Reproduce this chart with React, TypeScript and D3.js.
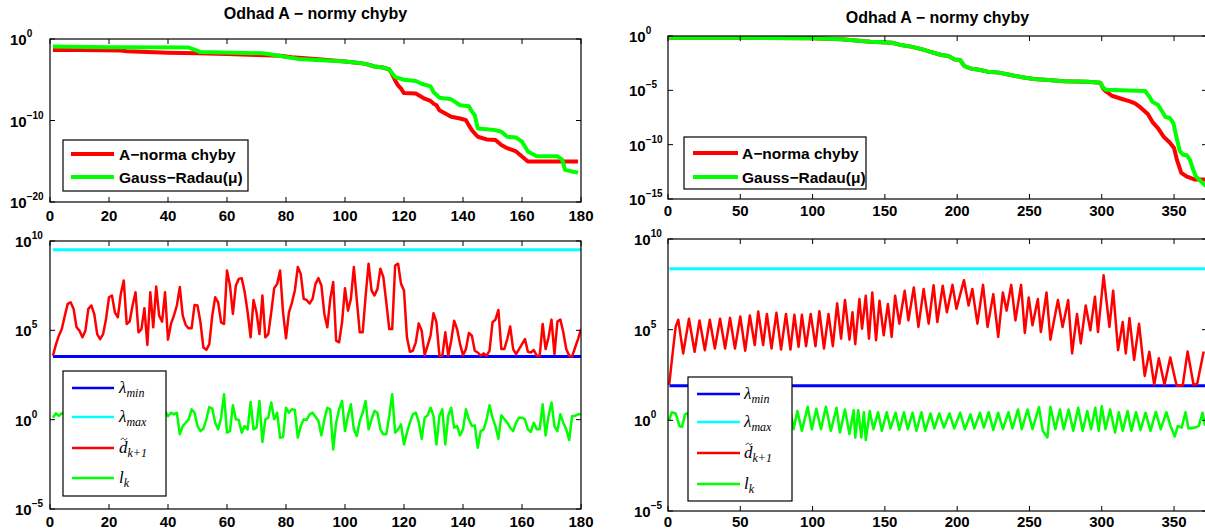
import React, { useEffect, useRef } from "react";
import * as d3 from "d3";

// ---------------- text ----------------
const titleText = "Odhad A \u2212 normy chyby";
const topLegendLabels = ["A\u2212norma chyby", "Gauss\u2212Radau(\u03bc)"];

// ---------------- ticks ----------------
const leftXTicks = [0, 20, 40, 60, 80, 100, 120, 140, 160, 180];
const rightXTicks = [0, 50, 100, 150, 200, 250, 300, 350];
const topLeftYTicks = [0, -10, -20]; // exponents of 10
const topRightYTicks = [0, -5, -10, -15];
const bottomYTicks = [10, 5, 0, -5];

// ---------------- data (values are exponents: value = 10^exp) ----------------
// Top-left: A-norm of error and Gauss-Radau estimate
const tlRedX = [1, 10, 24, 26, 40, 50, 60, 70, 78, 82, 90, 100, 104, 107, 110, 113, 115, 116, 117, 118, 119, 120, 124, 125, 127, 129, 130, 131, 132, 134, 136, 139, 141, 142, 143, 145, 148, 151, 153, 155, 158, 160, 162, 179];
const tlRedExp = [-1.34, -1.36, -1.4, -1.5, -1.68, -1.75, -1.83, -1.95, -2.05, -2.24, -2.45, -2.76, -2.9, -3.05, -3.37, -3.5, -3.74, -4.3, -5.08, -5.7, -6.1, -6.63, -6.7, -6.9, -7.32, -7.6, -7.93, -8.13, -8.74, -9.15, -9.55, -9.76, -9.96, -10.6, -11.18, -11.99, -12.32, -12.4, -13.0, -13.4, -13.8, -14.43, -15.04, -15.04];
const tlGreenX = [1, 20, 47, 49, 51, 72, 75, 80, 84, 100, 104, 107, 110, 113, 115, 116, 117, 120, 124, 126, 129, 130, 132, 136, 139, 142, 143, 144, 145, 148, 151, 153, 155, 158, 160, 161, 162, 165, 172, 173.6, 174.6, 177, 179];
const tlGreenExp = [-0.93, -1.0, -1.05, -1.3, -1.6, -1.75, -1.9, -2.2, -2.44, -2.76, -2.9, -3.05, -3.37, -3.5, -3.74, -4.2, -4.67, -5.0, -5.16, -5.49, -5.81, -6.5, -7.2, -7.4, -8.13, -8.25, -8.9, -9.35, -10.97, -11.06, -11.18, -11.38, -12.0, -12.1, -12.6, -13.2, -13.8, -14.4, -14.4, -14.8, -16.06, -16.26, -16.4];

// Top-right
const trRedX = [1, 50, 100, 120, 130, 140, 155, 160, 168, 176, 181, 189, 194, 198, 202, 205, 209, 216, 221, 229, 237, 245, 253, 263, 274, 290, 299, 301, 303, 307, 314, 319, 323, 327, 332, 335, 339, 343, 347, 350, 352, 355, 359, 364, 372];
const trRedExp = [-0.15, -0.17, -0.2, -0.3, -0.42, -0.52, -0.62, -0.8, -0.98, -1.23, -1.44, -1.75, -1.84, -2.15, -2.21, -2.76, -2.98, -3.13, -3.28, -3.37, -3.59, -3.8, -3.96, -4.05, -4.17, -4.2, -4.3, -4.85, -5.1, -5.5, -5.8, -6.0, -6.2, -6.6, -7.2, -7.9, -8.5, -9.3, -9.8, -10.3, -11.4, -12.6, -12.95, -13.2, -13.2];
const trGreenX = [1, 50, 100, 120, 130, 140, 155, 160, 168, 176, 181, 189, 194, 198, 202, 205, 209, 216, 221, 229, 237, 245, 253, 263, 274, 290, 299, 301, 303, 330, 333, 335, 339, 342, 344, 347, 349.5, 352, 354, 356, 359, 361, 363, 365, 368, 372];
const trGreenExp = [-0.15, -0.17, -0.2, -0.3, -0.42, -0.52, -0.62, -0.8, -0.98, -1.23, -1.44, -1.75, -1.84, -2.15, -2.21, -2.76, -2.98, -3.13, -3.28, -3.37, -3.59, -3.8, -3.96, -4.05, -4.17, -4.2, -4.3, -4.75, -4.95, -5.05, -5.6, -6.05, -6.35, -7.0, -7.45, -7.55, -8.0, -9.5, -10.6, -10.9, -11.0, -11.4, -12.2, -12.9, -13.3, -13.8];

// Bottom-left (k = 1..180)
const blLambdaMinExp = 3.54;
const blLambdaMaxExp = 9.51;
const blDExp = [
  3.58, 4.2, 4.7, 5.07, 5.8, 6.48, 6.57, 6.2, 5.17, 4.98,
  4.61, 4.98, 6.2, 6.39, 5.92, 4.79, 4.51, 4.79, 5.64, 6.85,
  6.95, 6.01, 5.73, 7.04, 7.79, 5.36, 5.49, 6.4, 7.13, 4.89,
  5.07, 6.24, 4.18, 7.13, 5.17, 7.45, 5.82, 5.49, 7.13, 4.48,
  5.36, 5.82, 6.39, 7.42, 5.82, 5.3, 5.11, 5.11, 6.42, 6.39,
  5.45, 4.04, 3.91, 4.23, 5.82, 6.85, 6.57, 5.45, 5.36, 8.35,
  7.51, 5.92, 7.51, 7.88, 7.92, 7.13, 6.01, 4.61, 6.7, 6.01,
  4.79, 6.95, 4.61, 4.79, 6.01, 7.36, 7.6, 8.35, 6.01, 4.55,
  6.01, 6.54, 7.23, 8.54, 8.16, 6.76, 6.7, 6.5, 6.76, 7.6,
  7.92, 7.51, 5.92, 5.17, 6.76, 7.7, 4.42, 4.33, 5.45, 7.36,
  6.1, 6.76, 8.54, 6.7, 4.89, 4.89, 6.95, 8.73, 7.23, 6.95,
  7.32, 8.45, 7.98, 6.57, 5.07, 5.07, 8.63, 8.73, 7.6, 7.23,
  4.61, 3.8, 3.86, 4.33, 5.39, 4.98, 3.61, 4.14, 4.7, 5.96,
  5.45, 3.58, 3.58, 4.89, 3.58, 4.42, 5.54, 5.07, 4.23, 3.61,
  3.95, 4.85, 4.7, 3.86, 3.76, 3.58, 3.71, 3.58, 3.86, 5.45,
  5.6, 6.14, 3.95, 3.95, 4.51, 5.21, 3.95, 3.67, 3.95, 4.23,
  4.51, 3.8, 3.76, 3.9, 3.58, 3.58, 5.36, 3.95, 4.61, 5.6,
  3.67, 5.49, 5.6, 4.89, 3.95, 3.58, 3.54, 4.04, 4.51, 5.07,
];
const blLExp = [
  0.11, 0.36, 0.21, 0.36, 0.28, 0.4, 0.1, -0.3, 0.5, 0.2,
  -0.6, 0.3, 0.8, -0.2, 0.1, 0.4, -0.5, 0.6, 0.0, -0.3,
  0.7, -0.8, 0.2, 0.3, -0.1, 0.5, -0.4, 0.9, 0.1, -0.6,
  0.2, 0.4, -0.2, 0.6, -0.9, 0.3, 0.1, -0.3, 0.5, 0.2,
  0.39, 0.3, 0.39, -0.82, -0.36, -0.17, 0.02, 0.58, 0.39, -0.36,
  -0.64, -0.51, 0.02, 0.71, 0.62, -0.17, -0.54, 0.11, 1.42, -0.73,
  -0.64, 0.81, 0.02, -0.02, -0.73, -0.36, -0.54, 0.99, -0.54, -0.45,
  1.05, -1.25, 0.02, 0.11, 0.96, 0.02, 0.39, -1.01, -0.97, 0.67,
  0.39, 0.58, 0.54, -1.01, -0.36, 0.02, -0.02, 0.3, 0.39, 0.17,
  -0.07, -0.88, 0.02, 0.66, 0.58, -1.67, -0.17, 0.58, 1.05, -0.64,
  0.21, 0.86, -0.54, -0.92, -0.07, 0.39, 1.05, -0.54, 0.02, 0.49,
  0.39, -0.54, -0.82, -0.82, 0.21, 1.42, -0.73, -0.54, -0.26, -1.39,
  -0.73, -0.17, 0.3, 0.39, -0.13, -1.07, 0.11, 0.24, 0.67, 0.21,
  -1.39, 0.21, 0.58, -1.39, 0.21, 0.67, -0.45, -0.36, -0.88, -0.54,
  0.58, 0.02, -0.36, -0.32, -1.57, -0.64, -0.54, 0.02, 0.81, 0.11,
  -0.36, -1.07, 0.24, 0.04, -0.17, -0.45, -0.64, -0.17, 0.11, 0.11,
  0.02, -0.54, -0.69, -0.17, -0.54, -0.54, 0.86, -0.88, 0.21, 0.96,
  -0.36, -0.64, 0.3, -0.17, -0.54, -1.14, 0.21, 0.21, 0.3, 0.3,
];

// Bottom-right (turning points)
const brLambdaMinExp = 1.91;
const brLambdaMaxExp = 8.36;
const brDX = [0.8, 3.2, 5.3, 7.1, 10.5, 14.5, 18.4, 21.8, 25.5, 28.9, 32.4, 36, 39.5, 42.9, 46.3, 50, 53.4, 56.6, 60, 62.4, 65.8, 68.4, 71.6, 75, 78.2, 81.6, 84.7, 87.4, 90.3, 92.6, 95.5, 98.7, 102, 104.7, 107.9, 111, 114, 117, 119.7, 122.4, 125.5, 127.6, 129.5, 132.4, 134.2, 136.8, 139, 141.3, 143.9, 146.3, 149.2, 152.1, 154.7, 157.1, 160, 163.7, 166.3, 170, 173.2, 176.8, 180.3, 183.7, 186.3, 190, 192.9, 196.8, 199.5, 204.7, 207.9, 210.5, 214, 217.9, 221, 225, 228.4, 231.6, 234.2, 237.4, 240.3, 244.2, 246.8, 249.5, 252.1, 255.8, 257.9, 261.8, 264.5, 269.7, 272.9, 276.8, 279.5, 282.9, 285.5, 288.9, 292.1, 295.3, 297.4, 301.3, 305.3, 307.9, 311.3, 314.5, 316.6, 319.2, 322.4, 325.8, 329.7, 332.9, 336.3, 339.5, 343.4, 347.4, 351.8, 356, 359.4, 363.5, 366, 370.5];
const brDExp = [1.96, 3.69, 5.15, 5.55, 3.69, 5.6, 3.78, 5.51, 3.87, 5.55, 3.96, 5.6, 3.96, 5.65, 3.96, 5.73, 3.84, 5.78, 4.15, 6.0, 4.15, 5.87, 3.96, 5.93, 3.9, 5.87, 3.9, 5.82, 4.05, 5.82, 4.09, 5.87, 4.09, 6.02, 3.96, 5.87, 4.09, 6.45, 4.5, 6.64, 4.45, 5.96, 4.2, 6.69, 5.05, 6.87, 4.5, 7.05, 4.42, 6.6, 4.69, 6.42, 4.6, 6.87, 5.33, 7.15, 5.51, 7.33, 5.15, 7.24, 5.33, 7.45, 5.42, 7.42, 5.96, 7.47, 6.15, 7.73, 6.33, 7.24, 5.33, 7.47, 5.15, 6.96, 4.6, 7.05, 6.05, 7.47, 5.51, 7.47, 4.82, 6.78, 5.24, 6.69, 4.87, 7.05, 4.45, 6.64, 5.15, 6.64, 3.69, 5.87, 4.24, 6.33, 4.96, 6.82, 4.87, 8.0, 5.15, 7.15, 3.87, 5.42, 3.69, 5.64, 3.33, 5.33, 2.45, 3.78, 1.96, 3.42, 1.96, 3.47, 1.91, 1.93, 3.8, 1.96, 2.0, 3.8];
const brLX = [0.8, 2.6, 5.3, 7.9, 9.7, 11.8, 13.7, 16.5, 19.5, 22.5, 25.5, 28.5, 31.5, 34.5, 37.5, 40.5, 43.5, 46.5, 49.5, 52.5, 55.5, 58.5, 61.5, 64.5, 67.5, 70.5, 73.5, 76.5, 79.5, 82.5, 85, 86.8, 89.5, 92.6, 96.6, 99.5, 102.6, 105.8, 109.2, 112.6, 116.6, 118.9, 122.4, 125.5, 128.4, 129.5, 131.6, 133.7, 135.5, 136.8, 139.5, 142.1, 145.3, 147.9, 151.3, 153.9, 157.4, 160, 163.2, 165.8, 169.2, 171.8, 175.3, 177.9, 181.6, 184.2, 187.6, 190.8, 194.7, 197.9, 202.1, 205.3, 209.2, 211.8, 215.8, 218.4, 221.8, 225, 228.4, 231.6, 235.5, 238.2, 242.1, 244.7, 248.7, 252.1, 256.6, 259.2, 262.4, 264.5, 267.9, 271.1, 273.7, 277.1, 280.3, 283.7, 286.8, 290, 292.6, 295.5, 297.9, 300, 302.6, 305.8, 309.2, 311.8, 314.5, 317.9, 320.5, 323.7, 326.8, 330.3, 333.7, 337.4, 340.8, 344.7, 347.4, 350.5, 352.6, 355.3, 357.9, 360, 364.5, 367.1, 369.7, 371.5];
const brLExp = [0, 0.45, 0.38, -0.31, -0.36, 0.33, 0.4, -0.5, 0.45, -0.55, 0.5, -0.5, 0.55, -0.45, 0.5, -0.55, 0.5, -0.5, 0.6, -0.45, 0.5, -0.55, 0.55, -0.5, 0.5, -0.6, 0.5, -0.5, 0.55, -0.5, 0.4, -0.49, 0.51, -0.58, 0.75, -0.49, 0.64, -0.49, 0.75, -0.58, 0.69, -0.67, 0.6, -0.76, 0.56, -0.95, 0.56, -0.95, 0.45, -1.09, 0.51, -0.49, 0.45, -0.58, 0.45, -0.45, 0.42, -0.53, 0.45, -0.49, 0.42, -0.58, 0.45, -0.58, 0.38, -0.45, 0.38, -0.4, 0.38, -0.45, 0.42, -0.49, 0.33, -0.45, 0.42, -0.4, 0.45, -0.53, 0.42, -0.49, 0.45, -0.45, 0.6, -0.49, 0.6, -0.49, 0.73, -0.58, -0.95, 0.75, -0.49, 0.6, -0.49, 0.6, -0.58, 0.69, -0.58, 0.51, -0.49, 0.69, -0.58, 0.78, -0.49, 0.6, -0.67, 0.45, -0.58, 0.51, -0.58, 0.45, -0.53, 0.42, -0.58, 0.47, -0.49, 0.45, -0.27, -0.89, -0.31, -0.4, 0.45, -0.45, -0.4, -0.31, 0.42, -0.3];

// ---------------- colours ----------------
const RED = "#ff0000";
const GREEN = "#00ff00";
const BLUE = "#0000ff";
const CYAN = "#00ffff";

const SANS = "'Liberation Sans', Arial, Helvetica, sans-serif";
const SERIF = "'Liberation Serif', 'DejaVu Serif', serif";

const idx = (n: number) => d3.range(1, n + 1);

type Series = { x: number[]; e: number[]; color: string; w: number };
type LegendItem = { color: string; text?: string; main?: string; sub?: string; tilde?: boolean };
type Panel = {
  id: string;
  left: number; right: number; top: number; bottom: number;
  xDomain: [number, number]; xTicks: number[]; xLabelY: number;
  yExp: [number, number]; yTicks: number[];
  labelX: number;
  title?: { y: number };
  series: Series[];
  legend: { x: number; y: number; w: number; h: number; rows: number[]; lx1: number; lx2: number; tx: number; lw: number; items: LegendItem[]; math: boolean };
};

function expStr(e: number) {
  return e < 0 ? "\u2212" + Math.abs(e) : String(e);
}

function drawPanel(svg: d3.Selection<SVGSVGElement, unknown, null, undefined>, p: Panel) {
  const x = d3.scaleLinear().domain(p.xDomain).range([p.left, p.right]);
  const y = d3.scaleLog().domain([Math.pow(10, p.yExp[0]), Math.pow(10, p.yExp[1])]).range([p.bottom, p.top]);
  const g = svg.append("g");
  const clipId = "clip-" + p.id;
  g.append("clipPath").attr("id", clipId).append("rect")
    .attr("x", p.left).attr("y", p.top).attr("width", p.right - p.left).attr("height", p.bottom - p.top);

  const line = d3.line<[number, number]>().x((d) => x(d[0])).y((d) => y(d[1]));
  p.series.forEach((s) => {
    const pts: [number, number][] = s.x.map((xv, i) => [xv, Math.pow(10, s.e[i])]);
    g.append("path").attr("d", line(pts) || "").attr("fill", "none").attr("stroke", s.color)
      .attr("stroke-width", s.w).attr("stroke-linejoin", "round").attr("stroke-linecap", "butt")
      .attr("clip-path", `url(#${clipId})`);
  });

  // box
  g.append("rect").attr("x", p.left).attr("y", p.top).attr("width", p.right - p.left).attr("height", p.bottom - p.top)
    .attr("fill", "none").attr("stroke", "#000").attr("stroke-width", 1.2);

  const tl = 5;
  p.xTicks.forEach((t) => {
    const xx = x(t);
    g.append("line").attr("x1", xx).attr("x2", xx).attr("y1", p.bottom).attr("y2", p.bottom - tl).attr("stroke", "#000");
    g.append("line").attr("x1", xx).attr("x2", xx).attr("y1", p.top).attr("y2", p.top + tl).attr("stroke", "#000");
    g.append("text").attr("x", xx).attr("y", p.xLabelY).attr("text-anchor", "middle")
      .attr("font-family", SANS).attr("font-weight", "bold").attr("font-size", 15).text(String(t));
  });
  p.yTicks.forEach((e) => {
    const yy = y(Math.pow(10, e));
    g.append("line").attr("x1", p.left).attr("x2", p.left + tl).attr("y1", yy).attr("y2", yy).attr("stroke", "#000");
    g.append("line").attr("x1", p.right).attr("x2", p.right - tl).attr("y1", yy).attr("y2", yy).attr("stroke", "#000");
    const t = g.append("text").attr("x", p.labelX).attr("y", yy + 6).attr("font-family", SANS).attr("font-weight", "bold").attr("font-size", 15);
    t.append("tspan").text("10");
    t.append("tspan").attr("font-size", 10).attr("dy", -8).text(expStr(e));
  });

  if (p.title) {
    g.append("text").attr("x", (p.left + p.right) / 2).attr("y", p.title.y).attr("text-anchor", "middle")
      .attr("font-family", SANS).attr("font-weight", "bold").attr("font-size", 16).text(titleText);
  }

  const L = p.legend;
  g.append("rect").attr("x", L.x).attr("y", L.y).attr("width", L.w).attr("height", L.h)
    .attr("fill", "#fff").attr("stroke", "#000").attr("stroke-width", 1.2);
  L.items.forEach((it, i) => {
    const yy = L.rows[i];
    g.append("line").attr("x1", L.lx1).attr("x2", L.lx2).attr("y1", yy).attr("y2", yy)
      .attr("stroke", it.color).attr("stroke-width", L.lw);
    if (!L.math) {
      g.append("text").attr("x", L.tx).attr("y", yy + 5.5).attr("font-family", SANS).attr("font-weight", "bold")
        .attr("font-size", 15.5).text(it.text || "");
    } else {
      const t = g.append("text").attr("x", L.tx).attr("y", yy + 5).attr("font-family", SERIF).attr("font-style", "italic").attr("font-size", 17);
      t.append("tspan").text(it.main || "");
      t.append("tspan").attr("font-size", 12).attr("dy", 4).text(it.sub || "");
      if (it.tilde) {
        // small tilde accent drawn above the "d"
        const cx = L.tx + 5, cy = yy - 9;
        g.append("path")
          .attr("d", `M${cx - 3},${cy + 1} C${cx - 2},${cy - 1.5} ${cx - 0.5},${cy - 1} ${cx},${cy} S${cx + 2},${cy + 1.5} ${cx + 3},${cy - 1}`)
          .attr("fill", "none").attr("stroke", "#000").attr("stroke-width", 0.8);
      }
    }
  });
}

const leftX = 50, leftR = 581;
const rightX = 668, rightR = 1207;

const panels: Panel[] = [
  {
    id: "tl", left: leftX, right: leftR, top: 39, bottom: 202,
    xDomain: [0, 180], xTicks: leftXTicks, xLabelY: 221, yExp: [-20, 0], yTicks: topLeftYTicks, labelX: 10,
    title: { y: 19 },
    series: [
      { x: tlRedX, e: tlRedExp, color: RED, w: 4 },
      { x: tlGreenX, e: tlGreenExp, color: GREEN, w: 4 },
    ],
    legend: { x: 63, y: 140, w: 185, h: 51, rows: [154, 177], lx1: 71, lx2: 114, tx: 119, lw: 4, math: false,
      items: [{ color: RED, text: topLegendLabels[0] }, { color: GREEN, text: topLegendLabels[1] }] },
  },
  {
    id: "bl", left: leftX, right: leftR, top: 241, bottom: 509,
    xDomain: [0, 180], xTicks: leftXTicks, xLabelY: 527, yExp: [-5, 10], yTicks: bottomYTicks, labelX: 15,
    series: [
      { x: [1, 180], e: [blLambdaMinExp, blLambdaMinExp], color: BLUE, w: 3 },
      { x: [1, 180], e: [blLambdaMaxExp, blLambdaMaxExp], color: CYAN, w: 3 },
      { x: idx(180), e: blDExp, color: RED, w: 2.5 },
      { x: idx(180), e: blLExp, color: GREEN, w: 2.5 },
    ],
    legend: { x: 63, y: 371, w: 103, h: 125, rows: [388, 417, 448, 478], lx1: 72, lx2: 114, tx: 119, lw: 2.5, math: true,
      items: [
        { color: BLUE, main: "\u03bb", sub: "min" },
        { color: CYAN, main: "\u03bb", sub: "max" },
        { color: RED, main: "d", sub: "k+1", tilde: true },
        { color: GREEN, main: "l", sub: "k" },
      ] },
  },
  {
    id: "tr", left: rightX, right: rightR, top: 36, bottom: 199,
    xDomain: [0, 372.8], xTicks: rightXTicks, xLabelY: 216, yExp: [-15, 0], yTicks: topRightYTicks, labelX: 629,
    title: { y: 23 },
    series: [
      { x: trRedX, e: trRedExp, color: RED, w: 4 },
      { x: trGreenX, e: trGreenExp, color: GREEN, w: 4 },
    ],
    legend: { x: 684, y: 137, w: 182, h: 52, rows: [153, 177], lx1: 693, lx2: 738, tx: 742, lw: 4, math: false,
      items: [{ color: RED, text: topLegendLabels[0] }, { color: GREEN, text: topLegendLabels[1] }] },
  },
  {
    id: "br", left: rightX, right: rightR, top: 239, bottom: 511,
    xDomain: [0, 372.8], xTicks: rightXTicks, xLabelY: 527, yExp: [-5, 10], yTicks: bottomYTicks, labelX: 634,
    series: [
      { x: [1, 372], e: [brLambdaMinExp, brLambdaMinExp], color: BLUE, w: 3 },
      { x: [1, 372], e: [brLambdaMaxExp, brLambdaMaxExp], color: CYAN, w: 3 },
      { x: brDX, e: brDExp, color: RED, w: 2.5 },
      { x: brLX, e: brLExp, color: GREEN, w: 2.5 },
    ],
    legend: { x: 688, y: 377, w: 104, h: 124, rows: [394, 422, 453, 484], lx1: 697, lx2: 740, tx: 744, lw: 2.5, math: true,
      items: [
        { color: BLUE, main: "\u03bb", sub: "min" },
        { color: CYAN, main: "\u03bb", sub: "max" },
        { color: RED, main: "d", sub: "k+1", tilde: true },
        { color: GREEN, main: "l", sub: "k" },
      ] },
  },
];

export default function App() {
  const ref = useRef<SVGSVGElement>(null);
  useEffect(() => {
    if (!ref.current) return;
    const svg = d3.select(ref.current);
    svg.selectAll("*").remove();
    svg.append("rect").attr("x", 0).attr("y", 0).attr("width", 1205).attr("height", 532).attr("fill", "#fff");
    panels.forEach((p) => drawPanel(svg as any, p));
  }, []);
  return (
    <svg ref={ref} width={1205} height={532} style={{ position: "absolute", left: 0, top: 0, display: "block" }} />
  );
}
